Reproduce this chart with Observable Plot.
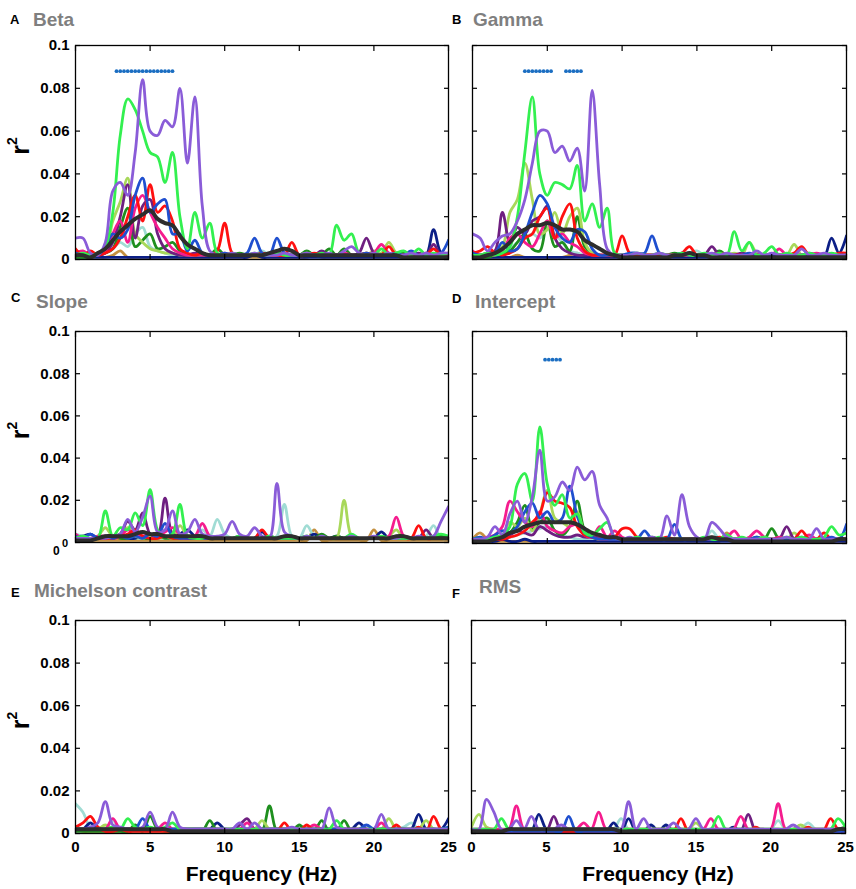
<!DOCTYPE html>
<html><head><meta charset="utf-8">
<script src="https://cdn.jsdelivr.net/npm/d3@7"></script>
<script src="https://cdn.jsdelivr.net/npm/@observablehq/plot@0.6"></script>
<style>
html,body{margin:0;padding:0;background:#fff;}
#page{position:relative;width:856px;height:889px;overflow:hidden;font-family:"Liberation Sans",Arial,sans-serif;}
.panel{position:absolute;}
#overlay{position:absolute;left:0;top:0;pointer-events:none;}
</style></head><body><div id="page"></div>
<script>
// frequency grid (Hz)
const freqs = [0,0.5,1,1.5,2,2.5,3,3.5,4,4.5,5,5.5,6,6.5,7,7.5,8,8.5,9,9.5,10,10.5,11,11.5,12,12.5,13,13.5,14,14.5,15,15.5,16,16.5,17,17.5,18,18.5,19,19.5,20,20.5,21,21.5,22,22.5,23,23.5,24,24.5,25];
const xTicks = [0,5,10,15,20,25];
const yTicks = [0,0.02,0.04,0.06,0.08,0.1];
const xTickLabels = ["0","5","10","15","20","25"];
const yTickLabels = ["0","0.02","0.04","0.06","0.08","0.1"];
// r² values below are in units of 0.001
// ---- A: Beta ----
const beta_tan = [1,1,1,1,1,2,4,1,1,1, 1,1,1,1,1,1,1,1,1,1, 1,1,1,1,1,1,1,1,1,1, 1,1,2,1,1,1,1,1,1,1, 1,1,1,1,1,1,1,1,1,1, 1];
const beta_cyan = [2,2,2,2,3,5,8,6,12,15, 6,4,3,2,2,2,2,2,2,2, 2,2,2,2,2,4,2,2,2,2, 2,2,2,2,2,2,2,2,2,2, 2,2,2,2,2,2,2,2,2,2, 2];
const beta_navy = [1,1,1,1,1,1,1,1,1,1, 1,1,1,1,1,1,1,1,1,1, 1,1,1,1,2,1,1,1,1,1, 1,1,1,1,1,1,1,1,1,1, 1,1,1,1,1,1,2,2,14,3, 2];
const beta_darkgreen = [1,1,1,2,3,5,15,24,6,9, 12,5,6,8,4,2,2,3,2,5, 2,2,3,2,2,3,2,4,2,2, 2,4,2,2,5,2,5,2,2,3, 2,2,2,2,3,2,2,2,2,2, 2];
const beta_lightgreen = [2,2,2,3,4,18,27,38,12,8, 5,4,3,3,2,2,2,2,2,2, 2,2,2,2,2,2,2,2,2,2, 2,2,2,2,2,2,2,2,2,2, 4,3,8,3,2,2,2,3,2,2, 2];
const beta_darkpurple = [2,2,2,2,3,8,20,35,10,25, 28,12,5,3,2,2,3,2,2,2, 2,3,2,2,2,2,2,2,3,2, 2,2,2,4,2,2,2,2,3,10, 3,2,2,2,2,2,3,2,7,2, 2];
const beta_magenta = [3,4,2,3,4,12,18,8,24,30, 22,15,10,5,3,2,2,2,2,2, 3,2,2,2,2,2,2,2,3,2, 2,3,2,2,2,2,3,2,2,2, 3,7,3,2,2,3,2,3,2,2, 2];
const beta_red = [5,2,4,2,3,5,10,20,30,18, 35,22,25,18,5,3,2,3,2,4, 17,3,2,2,2,3,2,2,2,8, 2,2,3,2,2,2,2,2,2,3, 2,2,6,2,2,2,2,2,5,2, 3];
const beta_blue = [3,2,2,2,6,12,10,14,30,38, 22,26,28,12,12,4,9,3,2,2, 3,2,2,3,10,3,2,10,3,2, 2,2,2,2,2,2,2,2,2,3, 2,2,2,3,2,4,2,2,2,3, 9];
const beta_green = [2,3,2,3,6,22,58,75,70,60, 50,48,36,50,20,5,22,10,17,3, 2,3,2,2,3,2,2,3,2,2, 2,3,2,3,2,16,9,12,3,2, 2,5,2,3,4,2,5,2,3,2, 3];
const beta_purple = [10,10,3,2,8,32,36,30,50,84, 60,58,65,62,80,45,76,25,4,2, 2,3,2,2,3,2,2,2,3,2, 2,3,2,2,3,2,4,6,3,2, 3,2,3,2,2,3,2,3,2,3, 3];
const beta_mean = [2,2,1,3,5,9,13,16,19,21, 23,19,17,16,11,7,5,3,2,2, 2,2,2,2,2,2,3,4,5,4, 2,2,2,2,2,2,2,2,2,2, 2,2,2,2,1,1,1,1,1,1, 1];
const beta_sig = [2.75,3.0,3.25,3.5,3.75,4.0,4.25,4.5,4.75,5.0,5.25,5.5,5.75,6.0,6.25,6.5];
const beta_sigLevel = 0.088;
// ---- B: Gamma ----
const gamma_tan = [1,1,1,1,1,1,2,1,1,1, 1,1,1,2,3,1,1,1,1,1, 1,1,1,1,1,1,1,1,1,1, 1,1,1,1,1,1,1,1,1,1, 1,1,1,1,1,1,1,1,1,1, 1];
const gamma_cyan = [2,2,2,2,3,5,8,10,12,10, 15,12,8,4,3,2,2,2,2,2, 2,2,2,2,2,2,2,2,2,3, 4,2,2,2,2,2,2,2,2,2, 2,2,2,2,2,2,2,2,2,2, 2];
const gamma_navy = [1,1,1,1,1,1,1,1,1,1, 1,1,1,1,1,1,1,1,1,1, 1,1,1,1,1,1,1,1,1,1, 1,1,1,1,1,1,1,1,1,1, 1,1,1,1,1,1,1,1,10,3, 11];
const gamma_darkgreen = [1,1,1,2,3,4,8,12,5,4, 18,6,8,4,20,6,3,2,2,2, 2,2,2,2,2,2,2,3,2,2, 2,2,2,4,2,2,2,2,2,2, 2,2,2,2,2,2,2,2,2,2, 2];
const gamma_lightgreen = [2,2,3,4,6,22,28,45,28,12, 14,22,12,20,24,8,3,2,2,2, 2,2,2,2,2,2,2,2,2,2, 2,2,2,2,2,3,2,8,3,2, 2,2,2,7,2,2,2,2,2,2, 2];
const gamma_darkpurple = [2,2,3,4,22,8,15,12,18,20, 25,10,5,3,2,2,2,2,2,2, 2,2,2,2,2,2,2,2,2,2, 2,2,6,2,2,2,3,2,2,2, 2,2,2,2,2,3,2,2,2,2, 2];
const gamma_magenta = [4,2,3,2,4,10,12,8,6,12, 18,10,12,8,6,3,2,2,2,2, 2,2,2,2,2,2,2,2,2,2, 2,2,2,2,2,2,2,2,2,2, 2,5,2,2,2,2,3,2,2,2, 2];
const gamma_red = [3,4,6,3,2,3,5,10,12,20, 24,10,20,26,10,4,2,2,2,2, 11,3,2,2,2,2,2,2,3,6, 2,2,2,3,2,2,2,2,2,2, 2,2,2,3,6,2,2,2,2,3, 3];
const gamma_blue = [3,2,2,3,8,4,5,12,22,30, 26,15,10,8,14,13,5,2,2,2, 2,3,3,3,11,3,2,2,3,2, 2,2,2,2,2,2,2,3,2,2, 2,2,2,2,2,2,2,2,2,2, 2];
const gamma_green = [2,2,3,2,3,6,20,50,76,40, 30,36,35,33,44,18,26,15,24,3, 2,2,3,2,2,3,2,2,3,2, 2,3,2,3,2,13,4,8,2,3, 6,2,3,2,2,3,2,2,3,2, 2];
const gamma_purple = [12,10,4,8,11,12,18,28,45,60, 60,50,53,46,52,32,79,35,5,2, 2,2,3,2,2,3,2,2,2,3, 2,2,3,2,3,2,2,2,4,2, 3,2,2,2,5,2,2,3,2,2, 2];
const gamma_mean = [1,1,2,3,5,8,12,14,16,16, 17,16,14,14,13,9,7,5,3,2, 1,1,1,1,1,1,1,2,2,3, 2,2,1,1,1,1,1,1,1,1, 1,1,1,1,1,1,1,1,1,1, 1];
const gamma_sig = [3.5,3.75,4.0,4.25,4.5,4.75,5.0,5.25,6.25,6.5,6.75,7.0,7.25];
const gamma_sigLevel = 0.088;
// ---- C: Slope ----
const slope_tan = [1,1,1,1,1,1,1,1,1,1, 1,1,1,1,1,1,1,1,1,1, 1,1,1,1,1,1,1,1,1,1, 1,1,6,1,1,1,1,1,1,1, 6,1,1,1,1,1,1,1,1,1, 1];
const slope_cyan = [4,3,2,2,3,2,3,2,2,2, 2,2,2,2,2,3,3,6,3,11, 4,2,2,2,2,2,2,3,18,3, 2,8,3,2,2,2,2,2,2,2, 2,2,2,2,2,2,2,3,8,2, 2];
const slope_navy = [3,3,4,2,3,2,3,2,2,3, 2,2,3,2,4,6,3,2,2,2, 2,2,2,2,2,5,2,2,2,2, 2,2,4,2,2,3,2,2,2,2, 2,5,2,2,2,2,2,2,2,2, 2];
const slope_darkgreen = [1,1,1,2,2,3,2,2,3,2, 2,3,2,2,2,3,2,2,2,2, 2,2,3,2,2,2,3,2,2,2, 2,3,2,4,2,3,2,2,2,2, 2,2,2,2,2,2,2,2,2,3, 2];
const slope_lightgreen = [2,2,2,3,7,3,4,7,3,2, 3,2,3,2,8,3,2,2,2,2, 2,2,2,2,2,2,2,2,2,2, 2,2,2,2,2,2,20,3,2,2, 2,2,3,6,2,2,2,2,2,2, 2];
const slope_darkpurple = [1,1,2,2,2,3,4,10,6,14, 4,3,21,4,3,2,2,2,2,2, 2,2,2,2,2,2,2,2,2,2, 2,2,2,2,2,2,2,2,2,2, 2,2,2,2,2,2,2,6,2,2, 2];
const slope_magenta = [4,2,2,3,3,2,3,6,4,3, 4,3,5,7,4,3,3,9,3,2, 2,2,2,2,2,2,2,2,2,2, 2,2,2,2,2,2,2,2,2,2, 2,2,3,12,3,2,2,2,2,2, 2];
const slope_red = [2,2,2,2,2,2,3,4,6,3, 2,2,3,2,2,2,2,2,2,2, 2,2,2,2,2,6,2,2,2,2, 2,2,2,2,2,2,2,2,2,2, 2,2,2,2,2,2,8,2,2,2, 2];
const slope_blue = [3,2,4,2,3,2,3,2,3,2, 4,3,9,3,2,2,2,2,2,2, 2,2,2,2,2,2,2,2,2,2, 2,2,2,2,2,2,2,2,2,2, 2,2,2,2,2,2,2,2,2,2, 2];
const slope_green = [2,3,2,2,15,3,7,6,14,8, 25,6,3,4,18,3,2,2,3,2, 2,2,3,2,2,2,3,2,2,2, 2,3,2,2,2,2,2,4,2,2, 2,3,2,2,2,2,2,2,3,4, 3];
const slope_purple = [2,2,2,2,2,3,4,11,5,12, 22,5,6,15,4,5,11,4,3,3, 4,10,4,3,7,3,2,28,5,3, 2,3,2,3,2,2,2,3,2,2, 3,2,2,2,3,2,3,2,3,10, 17];
const slope_mean = [1,1,1,2,3,3,3,3,4,5, 4,4,3,3,3,3,3,3,2,2, 2,2,2,2,2,2,2,2,3,3, 2,2,2,2,2,2,2,2,2,2, 2,2,2,3,3,2,2,2,2,2, 2];
// ---- D: Intercept ----
const icpt_tan = [2,5,2,1,1,1,1,1,1,1, 1,1,1,1,1,1,1,1,1,1, 1,1,1,1,1,1,1,1,1,1, 1,1,1,1,5,1,1,1,1,1, 1,1,1,1,1,1,1,1,1,1, 1];
const icpt_cyan = [2,2,2,3,3,3,4,5,6,7, 8,6,4,3,2,2,2,2,2,2, 2,2,2,2,2,2,2,2,2,2, 2,2,6,2,2,2,2,2,2,2, 2,2,2,2,2,2,2,2,2,2, 2];
const icpt_navy = [1,1,1,1,2,1,1,2,1,1, 1,1,1,1,1,1,1,1,1,1, 1,1,1,1,1,1,1,1,1,1, 1,1,1,1,1,1,1,1,1,1, 1,1,1,1,1,1,1,1,1,1, 1];
const icpt_darkgreen = [1,1,1,2,3,5,10,18,7,10, 12,6,4,8,20,6,3,2,2,2, 2,2,2,2,3,2,2,2,2,2, 2,2,3,2,2,2,2,2,3,2, 7,2,2,2,2,2,2,2,2,2, 2];
const icpt_lightgreen = [2,2,2,3,4,10,8,12,6,14, 25,12,10,8,15,5,3,2,2,2, 2,2,2,2,2,2,2,2,2,2, 2,2,2,2,2,2,2,2,2,2, 2,2,2,5,2,2,2,2,2,2, 2];
const icpt_darkpurple = [2,2,2,3,3,4,6,5,4,8, 6,4,3,3,4,3,3,3,2,2, 2,2,2,2,2,2,2,2,2,2, 2,2,2,2,2,2,2,2,2,2, 2,2,8,2,2,2,2,2,2,2, 2];
const icpt_magenta = [2,2,3,4,8,20,15,10,8,15, 8,6,5,8,9,4,3,8,3,6, 3,2,2,2,2,2,2,2,2,2, 2,2,2,2,3,6,2,3,6,3, 2,3,2,2,2,4,2,2,2,2, 2];
const icpt_red = [2,2,2,2,2,3,4,6,10,14, 24,20,19,17,8,4,3,2,2,3, 7,7,3,2,2,2,3,2,2,2, 2,2,2,3,2,2,2,2,2,2, 2,2,2,2,6,2,2,5,2,2, 2];
const icpt_blue = [2,3,2,4,6,5,8,15,19,12, 15,10,12,27,13,5,3,2,2,2, 2,2,2,6,2,2,2,9,2,2, 2,2,2,2,2,2,2,2,3,2, 2,2,2,2,3,2,2,2,3,2, 9];
const icpt_green = [2,2,2,3,4,8,28,33,20,55, 28,18,23,12,14,5,4,7,10,3, 2,2,3,2,2,3,2,2,2,2, 2,3,2,2,4,2,3,2,2,3, 2,2,3,2,3,2,2,3,8,4, 5];
const icpt_purple = [2,2,3,8,4,14,20,10,22,44, 20,22,29,25,36,30,34,18,12,3, 2,3,2,2,3,2,13,4,23,8, 3,2,10,7,3,2,2,2,2,2, 2,2,3,2,2,2,7,2,2,2, 2];
const icpt_mean = [1,1,1,2,3,5,6,8,9,10, 10,10,10,10,9,7,5,4,3,3, 2,2,2,2,2,2,2,2,2,2, 2,2,3,2,2,1,1,1,1,1, 1,1,1,1,1,1,1,1,1,2, 2];
const icpt_sig = [4.85,5.1,5.35,5.6,5.85];
const icpt_sigLevel = 0.0867;
// ---- E: Michelson contrast ----
const mich_tan = [2,1,1,1,1,1,1,1,1,1, 1,1,1,1,1,1,1,1,1,1, 1,1,1,1,1,1,1,1,1,1, 1,1,1,1,1,1,1,1,1,1, 1,1,1,1,1,1,1,1,1,1, 1];
const mich_cyan = [14,10,3,2,2,6,2,2,2,2, 2,2,2,2,2,2,2,2,2,2, 2,2,2,2,2,2,2,2,2,2, 2,2,2,2,2,2,2,2,2,2, 2,2,2,2,3,5,2,2,2,2, 2];
const mich_navy = [2,2,5,2,2,2,2,2,2,2, 2,2,2,2,2,2,2,2,2,5, 2,2,2,2,2,2,2,2,2,2, 2,2,2,2,2,2,2,2,5,2, 2,2,2,2,2,2,9,2,2,2, 7];
const mich_darkgreen = [1,1,1,1,1,1,1,1,4,1, 8,2,1,1,1,1,1,1,6,1, 1,1,1,1,1,1,13,1,1,1, 4,1,1,6,1,1,6,1,1,1, 1,1,1,1,1,1,1,1,1,1, 1];
const mich_lightgreen = [3,2,2,2,4,2,2,2,2,2, 2,2,2,2,2,2,2,2,2,2, 2,2,2,2,2,6,2,2,2,2, 2,2,2,2,2,2,2,2,2,2, 2,2,7,2,2,2,2,6,2,2, 2];
const mich_darkpurple = [2,2,2,2,2,2,2,2,2,2, 2,2,2,2,2,2,2,2,2,2, 2,2,4,7,2,2,2,2,2,2, 2,2,2,2,2,2,2,2,2,2, 2,2,2,2,2,2,2,2,2,2, 2];
const mich_magenta = [2,2,2,2,2,7,2,2,2,2, 2,2,5,2,2,2,2,2,2,2, 2,2,2,5,2,2,2,2,2,2, 2,2,4,2,2,2,2,2,2,2, 2,5,2,2,2,2,2,2,2,2, 2];
const mich_red = [3,5,8,3,1,1,2,1,1,1, 1,1,1,1,1,1,1,1,1,1, 1,1,1,1,1,1,1,1,5,1, 1,4,1,1,1,1,1,1,1,1, 1,1,1,4,1,1,3,1,8,2, 1];
const mich_blue = [2,2,2,2,2,2,2,2,2,7, 2,2,2,2,2,2,2,2,2,2, 2,2,2,2,2,2,2,2,2,2, 2,2,2,2,2,2,2,2,2,4, 2,2,2,2,2,2,2,2,2,2, 3];
const mich_green = [2,2,2,2,2,3,2,7,3,2, 3,2,3,5,2,2,2,2,2,2, 2,2,2,2,2,2,2,2,2,2, 2,2,2,2,2,6,2,2,2,2, 2,2,2,2,2,2,2,2,2,2, 2];
const mich_purple = [2,2,3,5,15,4,3,2,2,3, 10,3,2,10,3,2,2,2,2,2, 2,2,5,2,5,2,2,2,2,3, 2,2,2,2,12,3,2,2,2,2, 2,9,2,2,2,2,2,2,2,2, 2];
const mich_mean = [2,2,2,2,2,2,2,2,2,2, 2,2,2,1,1,1,1,1,1,1, 1,1,1,1,1,1,1,1,1,1, 1,1,1,1,1,1,1,1,1,1, 1,1,1,1,1,1,1,1,1,1, 1];
// ---- F: RMS ----
const rms_tan = [2,1,1,1,1,1,1,1,1,1, 1,1,1,1,1,1,1,1,1,1, 1,1,1,1,1,1,1,1,1,1, 1,1,1,1,1,1,1,1,1,1, 1,1,1,1,1,1,1,1,1,1, 1];
const rms_cyan = [2,2,2,2,2,2,2,2,2,2, 2,2,2,2,2,2,2,2,2,2, 7,2,2,2,2,2,2,2,2,2, 2,2,2,2,2,2,2,2,2,2, 2,6,2,2,2,5,2,2,2,2, 2];
const rms_navy = [1,1,1,1,1,1,1,1,1,9, 2,1,1,1,1,1,1,1,1,5, 1,7,1,1,4,1,4,1,1,1, 1,1,1,1,1,3,1,1,1,1, 1,1,1,1,1,1,1,1,1,1, 1];
const rms_darkgreen = [1,1,1,1,1,1,1,1,1,1, 1,1,1,1,1,1,1,1,1,1, 1,1,1,1,1,1,1,1,1,1, 1,1,1,1,1,1,1,1,1,1, 1,1,1,1,1,1,1,1,1,2, 3];
const rms_lightgreen = [3,9,3,2,2,2,2,2,2,2, 2,2,2,2,2,2,2,2,2,2, 2,2,2,2,2,2,2,2,2,2, 5,2,2,2,2,2,2,2,2,2, 2,2,2,2,4,2,2,2,2,2, 2];
const rms_darkpurple = [1,1,1,1,1,1,1,1,1,1, 1,8,1,1,1,1,1,1,1,1, 1,1,1,1,1,1,1,1,1,1, 1,1,1,1,1,1,1,9,1,1, 1,1,1,1,1,1,1,1,1,1, 1];
const rms_magenta = [2,2,2,2,2,2,13,2,2,2, 2,2,2,2,2,5,2,10,2,2, 2,2,2,2,2,2,2,2,2,2, 2,2,7,2,2,2,8,2,2,2, 2,14,2,2,2,2,2,2,2,2, 2];
const rms_red = [1,1,1,1,1,1,1,1,1,1, 1,1,1,1,1,1,1,1,1,1, 1,1,1,1,1,1,1,1,7,1, 1,1,1,1,1,1,1,1,3,1, 1,1,1,1,1,3,1,1,7,2, 1];
const rms_blue = [1,1,1,1,1,1,1,1,1,1, 1,1,1,8,1,1,1,1,1,1, 1,1,1,1,1,1,1,1,1,1, 1,1,1,1,1,1,1,1,1,1, 1,1,1,1,1,1,1,1,1,1, 1];
const rms_green = [2,2,2,2,7,2,2,2,2,2, 2,2,2,2,2,2,2,2,2,2, 2,2,2,2,2,2,2,2,2,2, 2,2,2,8,2,2,2,2,2,2, 2,2,2,2,2,2,2,2,2,7, 3];
const rms_purple = [2,2,16,10,2,2,6,2,8,2, 2,2,4,2,2,2,2,2,2,2, 2,15,2,7,2,2,2,5,2,2, 7,2,2,2,2,2,2,2,2,2, 2,2,2,4,2,2,2,2,2,2, 2];
const rms_mean = [1,1,1,1,1,2,2,2,2,2, 2,2,2,2,2,2,2,2,2,2, 1,1,1,1,1,1,1,1,1,1, 1,1,1,1,1,1,1,1,1,1, 1,1,1,1,1,1,1,1,1,2, 2];

const colors = {
  tan:"#c49040", cyan:"#a0dcd4", navy:"#0c1f86", darkgreen:"#1e8f1e", lightgreen:"#a8d85a",
  darkpurple:"#6e1f80", magenta:"#f51c8e", red:"#ff1010", blue:"#1f4fcf", green:"#33f050", purple:"#8a5cd8"
};
const order = ["tan","cyan","navy","darkgreen","lightgreen","darkpurple","magenta","red","blue","green","purple"];

const panels = [
  {letter:"A", title:"Beta", left:0, top:0, width:460, height:280, mt:45, mb:21, ml:75, mr:12, yLab:true, xLab:false,
   s:{tan:beta_tan,cyan:beta_cyan,navy:beta_navy,darkgreen:beta_darkgreen,lightgreen:beta_lightgreen,darkpurple:beta_darkpurple,magenta:beta_magenta,red:beta_red,blue:beta_blue,green:beta_green,purple:beta_purple},
   mean:beta_mean, sig:beta_sig, sigLevel:beta_sigLevel},
  {letter:"B", title:"Gamma", left:430, top:0, width:426, height:280, mt:45, mb:21, ml:42, mr:10, yLab:false, xLab:false,
   s:{tan:gamma_tan,cyan:gamma_cyan,navy:gamma_navy,darkgreen:gamma_darkgreen,lightgreen:gamma_lightgreen,darkpurple:gamma_darkpurple,magenta:gamma_magenta,red:gamma_red,blue:gamma_blue,green:gamma_green,purple:gamma_purple},
   mean:gamma_mean, sig:gamma_sig, sigLevel:gamma_sigLevel},
  {letter:"C", title:"Slope", left:0, top:280, width:460, height:280, mt:51, mb:18, ml:75, mr:12, yLab:true, xLab:false, oddZero:true,
   s:{tan:slope_tan,cyan:slope_cyan,navy:slope_navy,darkgreen:slope_darkgreen,lightgreen:slope_lightgreen,darkpurple:slope_darkpurple,magenta:slope_magenta,red:slope_red,blue:slope_blue,green:slope_green,purple:slope_purple},
   mean:slope_mean},
  {letter:"D", title:"Intercept", left:430, top:280, width:426, height:280, mt:51, mb:17, ml:42, mr:10, yLab:false, xLab:false,
   s:{tan:icpt_tan,cyan:icpt_cyan,navy:icpt_navy,darkgreen:icpt_darkgreen,lightgreen:icpt_lightgreen,darkpurple:icpt_darkpurple,magenta:icpt_magenta,red:icpt_red,blue:icpt_blue,green:icpt_green,purple:icpt_purple},
   mean:icpt_mean, sig:icpt_sig, sigLevel:icpt_sigLevel},
  {letter:"E", title:"Michelson contrast", left:0, top:570, width:460, height:319, mt:50, mb:56, ml:75, mr:12, yLab:true, xLab:true,
   s:{tan:mich_tan,cyan:mich_cyan,navy:mich_navy,darkgreen:mich_darkgreen,lightgreen:mich_lightgreen,darkpurple:mich_darkpurple,magenta:mich_magenta,red:mich_red,blue:mich_blue,green:mich_green,purple:mich_purple},
   mean:mich_mean},
  {letter:"F", title:"RMS", left:430, top:570, width:426, height:319, mt:50, mb:56, ml:41, mr:11, yLab:false, xLab:true,
   s:{tan:rms_tan,cyan:rms_cyan,navy:rms_navy,darkgreen:rms_darkgreen,lightgreen:rms_lightgreen,darkpurple:rms_darkpurple,magenta:rms_magenta,red:rms_red,blue:rms_blue,green:rms_green,purple:rms_purple},
   mean:rms_mean}
];

const page = document.getElementById("page");
const xFmt = d => xTickLabels[xTicks.indexOf(d)];
const yFmt = d => yTickLabels[yTicks.findIndex(t => Math.abs(t - d) < 1e-9)];
const blank = () => "";

for (const p of panels) {
  const marks = [];
  for (const key of order) {
    marks.push(Plot.line(p.s[key], {x: (d, i) => freqs[i], y: d => d / 1000, stroke: colors[key], strokeWidth: 2.8, curve: "catmull-rom", clip: true}));
  }
  marks.push(Plot.line(p.mean, {x: (d, i) => freqs[i], y: d => d / 1000, stroke: "#2d2d2d", strokeWidth: 4, curve: "catmull-rom", clip: true}));
  if (p.sig) marks.push(Plot.dot(p.sig, {x: d => d, y: () => p.sigLevel, r: 1.9, fill: "#1b6ec2", stroke: "none"}));
  marks.push(Plot.frame({stroke: "black", strokeWidth: 1.3}));
  marks.push(Plot.axisX(xTicks, {anchor: "bottom", tickSize: -5, tickPadding: 13, tickFormat: p.xLab ? xFmt : blank, label: null, strokeWidth: 1.2}));
  marks.push(Plot.axisX(xTicks, {anchor: "top", tickSize: -5, tickFormat: blank, label: null, strokeWidth: 1.2}));
  marks.push(Plot.axisY(yTicks, {anchor: "left", tickSize: -5, tickPadding: 11, tickFormat: p.yLab ? (p.oddZero ? (d => d === 0 ? "" : yFmt(d)) : yFmt) : blank, label: null, strokeWidth: 1.2}));
  marks.push(Plot.axisY(yTicks, {anchor: "right", tickSize: -5, tickFormat: blank, label: null, strokeWidth: 1.2}));
  const chart = Plot.plot({
    width: p.width, height: p.height,
    marginTop: p.mt, marginBottom: p.mb, marginLeft: p.ml, marginRight: p.mr,
    x: {domain: [0, 25], axis: null},
    y: {domain: [0, 0.1], axis: null},
    style: {fontFamily: "'Liberation Sans', Arial, sans-serif", fontSize: "15px", fontWeight: "bold", background: "transparent", overflow: "visible", color: "black"},
    marks
  });
  const div = document.createElement("div");
  div.className = "panel";
  div.style.left = p.left + "px";
  div.style.top = p.top + "px";
  div.appendChild(chart);
  page.appendChild(div);
}

// overlay texts: panel letters, titles, axis titles
const titlePos = {
  A: {lx:10, ly:24, tx:33, ty:26}, B: {lx:452, ly:24, tx:473, ty:26},
  C: {lx:11, ly:302, tx:36, ty:308}, D: {lx:452, ly:303, tx:475, ty:308},
  E: {lx:11, ly:597, tx:34, ty:597}, F: {lx:452, ly:598, tx:479, ty:593}
};
let svg = `<svg id="overlay" width="856" height="889" xmlns="http://www.w3.org/2000/svg" font-family="'Liberation Sans', Arial, sans-serif" font-weight="bold">`;
for (const p of panels) {
  const t = titlePos[p.letter];
  svg += `<text x="${t.lx}" y="${t.ly}" font-size="13" fill="#000">${p.letter}</text>`;
  svg += `<text x="${t.tx}" y="${t.ty}" font-size="19" fill="#7f7f7f">${p.title}</text>`;
  if (p.yLab) {
    const mid = p.top + p.mt + (p.height - p.mt - p.mb) / 2 - 6;
    svg += `<text transform="translate(29,${mid}) rotate(-90)" text-anchor="middle" fill="#000"><tspan font-size="25">r</tspan><tspan font-size="14" dy="-12">2</tspan></text>`;
  }
  if (p.xLab) {
    const cx = p.left + p.ml + (p.width - p.ml - p.mr) / 2;
    svg += `<text x="${cx}" y="881" font-size="21" text-anchor="middle" fill="#000">Frequency (Hz)</text>`;
  }
  if (p.oddZero) {
    svg += `<text x="53" y="555" font-size="12" fill="#000">0</text><text x="62" y="547" font-size="11" fill="#000">0</text>`;
  }
}
svg += `</svg>`;
page.insertAdjacentHTML("beforeend", svg);
</script></body></html>
